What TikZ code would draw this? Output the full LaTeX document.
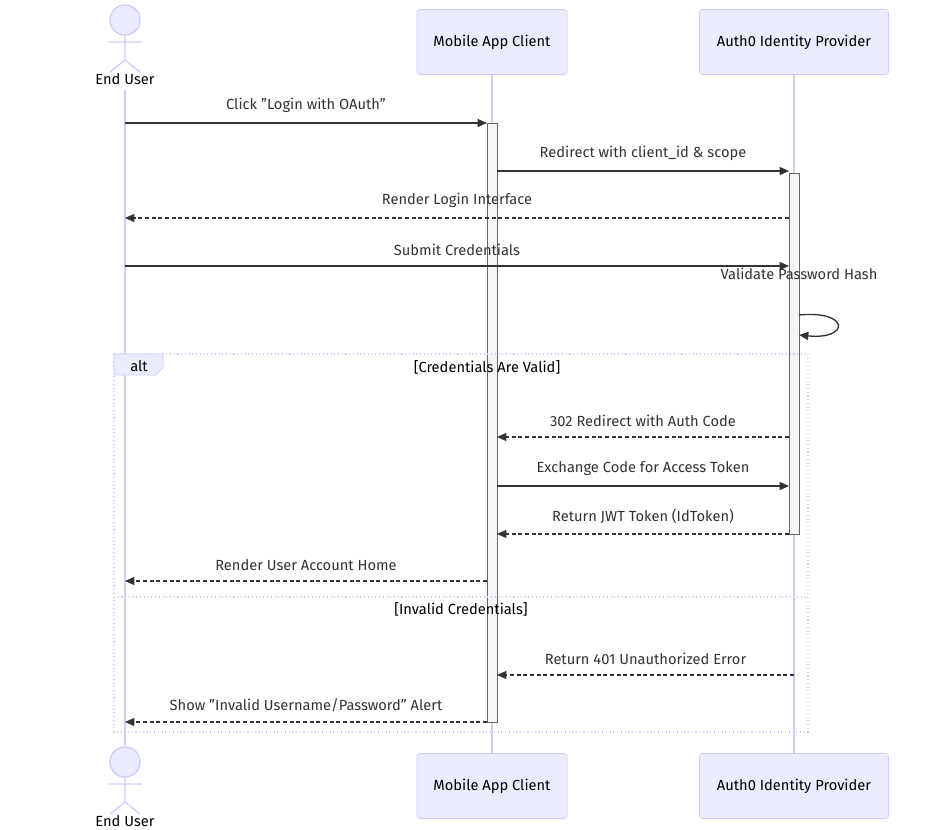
\documentclass[tikz,border=0pt]{standalone}
\usepackage{fontspec}
\setmainfont{Fira Sans}
\usetikzlibrary{arrows.meta, positioning, calc}
\definecolor{actfill}{HTML}{ECECFF}
\definecolor{actline}{HTML}{CCCCFF}
\definecolor{lifeline}{HTML}{D4CCF2}
\definecolor{msg}{HTML}{333333}
\tikzset{
	partbox/.style={rectangle, draw=actline, fill=actfill, rounded corners=2pt, minimum height=65*0.75pt, font=\fontsize{11}{13}\selectfont},
	actbar/.style={draw=gray!80!black, fill=gray!8},
	msgline/.style={draw=msg, line width=1pt, -{Triangle[length=7pt, width=6pt]}},
	replyline/.style={msgline, dash pattern=on 3pt off 2pt},
	msglabel/.style={font=\fontsize{11}{13}\selectfont, text=msg, above=4pt},
	frameline/.style={draw=actline, dotted, line width=0.8pt}
}
\begin{document}
\begin{tikzpicture}[x=0.75pt, y=-0.75pt]
	\useasboundingbox (0,0) rectangle (939,829);
	% participants
	\node[partbox, minimum width=150*0.75pt] (mob) at (492,42) {Mobile App Client};
	\node[partbox, minimum width=189*0.75pt] (auth) at (794,42) {Auth0 Identity Provider};
	\node[partbox, minimum width=150*0.75pt] (mobB) at (492,786) {Mobile App Client};
	\node[partbox, minimum width=189*0.75pt] (authB) at (794,786) {Auth0 Identity Provider};
	% actors
	\foreach \y/\n in {0/userT, 742/userB} {
		\begin{scope}[yshift=-\y*0.75pt, draw=actline, line width=1pt]
			\draw[fill=actfill] (125,20) circle (15*0.75pt);
			\draw (125,35) -- (125,60) (108,42) -- (142,42) (125,60) -- (110,72) (125,60) -- (140,72);
			\node[font=\fontsize{11}{13}\selectfont] (\n) at (125,79) {End User};
		\end{scope}
	}
	% lifelines
	\draw[lifeline, line width=1pt] (userT.south) -- (125,745);
	\draw[lifeline, line width=1pt] (mob.south) -- (mobB.north);
	\draw[lifeline, line width=1pt] (auth.south) -- (authB.north);
	% activations
	\draw[actbar] (487,123) rectangle (497,722);
	\draw[actbar] (789,173) rectangle (799,534);
	% alt frame
	\draw[frameline] (114,354) rectangle (808,732);
	\draw[frameline] (114,597) -- (808,597);
	\draw[draw=actline, fill=actfill] (114,354) -- (163,354) -- (163,368) -- (156,375) -- (114,375) -- cycle;
	\node[font=\fontsize{11}{13}\selectfont] at (139,366) {alt};
	\node[font=\fontsize{11}{13}\selectfont] at (487,367) {[Credentials Are Valid]};
	\node[font=\fontsize{11}{13}\selectfont] at (461,609) {[Invalid Credentials]};
	% messages
	\coordinate (u1) at (125,123); \coordinate (m1) at (487,123);
	\draw[msgline] (u1) -- (m1) node[msglabel, midway] {Click "Login with OAuth"};
	\coordinate (m2) at (497,171); \coordinate (a2) at (789,171);
	\draw[msgline] (m2) -- (a2) node[msglabel, midway] {Redirect with client\_id \& scope};
	\coordinate (a3) at (789,218); \coordinate (u3) at (125,218);
	\draw[replyline] (a3) -- (u3) node[msglabel, midway] {Render Login Interface};
	\coordinate (u4) at (125,266); \coordinate (a4) at (789,266);
	\draw[msgline] (u4) -- (a4) node[msglabel, midway] {Submit Credentials};
	\coordinate (s1) at (799,315); \coordinate (s2) at (799,335);
	\draw[msgline] (s1) .. controls (850,310) and (850,340) .. (s2);
	\node[msglabel] at (799,290) {Validate Password Hash};
	\coordinate (a5) at (789,437); \coordinate (m5) at (497,437);
	\draw[replyline] (a5) -- (m5) node[msglabel, midway] {302 Redirect with Auth Code};
	\coordinate (m6) at (497,486); \coordinate (a6) at (789,486);
	\draw[msgline] (m6) -- (a6) node[msglabel, midway] {Exchange Code for Access Token};
	\coordinate (a7) at (789,534); \coordinate (m7) at (497,534);
	\draw[replyline] (a7) -- (m7) node[msglabel, midway] {Return JWT Token (IdToken)};
	\coordinate (m8) at (487,581); \coordinate (u8) at (125,581);
	\draw[replyline] (m8) -- (u8) node[msglabel, midway] {Render User Account Home};
	\coordinate (a9) at (794,675); \coordinate (m9) at (497,675);
	\draw[replyline] (a9) -- (m9) node[msglabel, midway] {Return 401 Unauthorized Error};
	\coordinate (m10) at (487,722); \coordinate (u10) at (125,722);
	\draw[replyline] (m10) -- (u10) node[msglabel, midway] {Show "Invalid Username/Password" Alert};
\end{tikzpicture}
\end{document}
